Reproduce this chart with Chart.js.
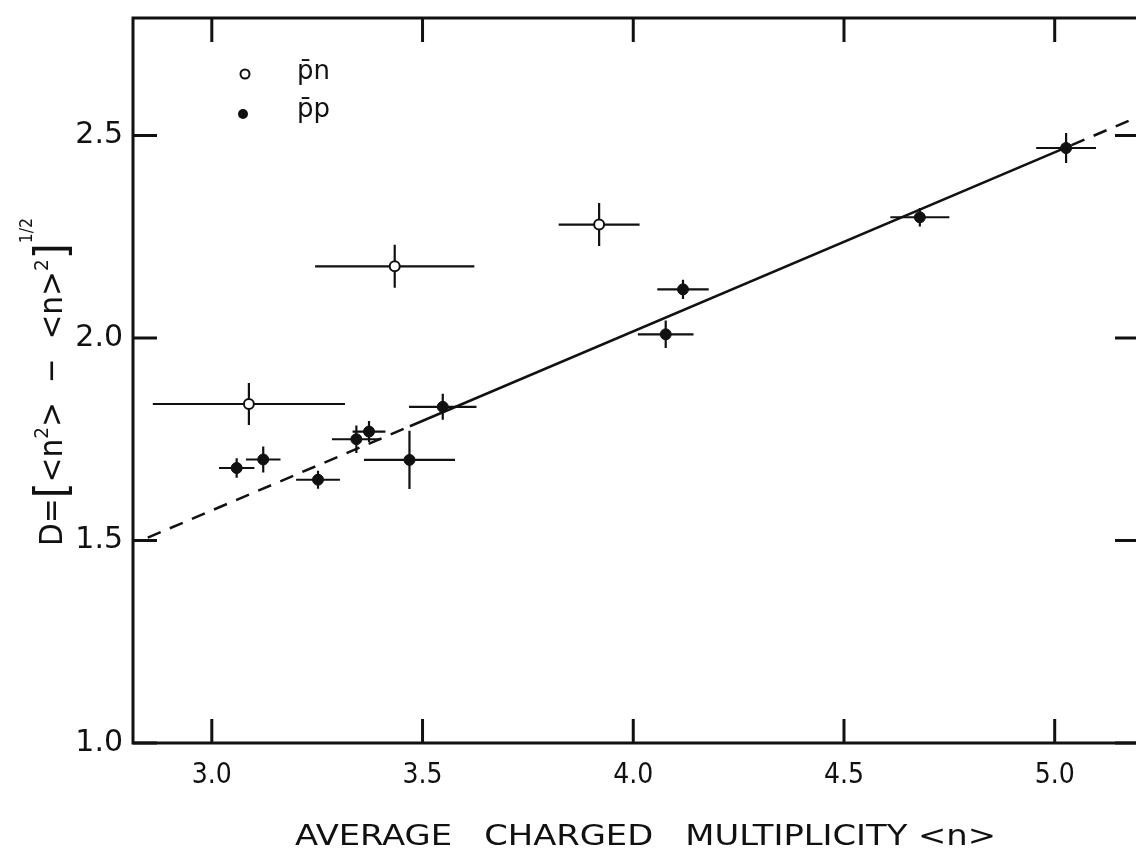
<!DOCTYPE html>
<html>
<head>
<meta charset="utf-8">
<script src="https://cdn.jsdelivr.net/npm/chart.js@4.4.1/dist/chart.umd.min.js"></script>
<style>
  html, body { margin: 0; padding: 0; background: #fff; overflow: hidden; }
  #wrap { width: 1146px; height: 848px; }
</style>
</head>
<body>
<div id="wrap"><canvas id="chart" width="1146" height="848"></canvas></div>
<script>
// pbar-n points (open circles)
const pnX    = [3.088, 3.434, 3.919];
const pnY    = [1.837, 2.177, 2.280];
const pnXErr = [0.228, 0.189, 0.096];
const pnYErr = [0.052, 0.053, 0.053];

// pbar-p points (filled)
const ppX    = [3.059, 3.122, 3.252, 3.343, 3.373, 3.469, 3.548, 4.077, 4.118, 4.680, 5.027];
const ppY    = [1.679, 1.700, 1.650, 1.750, 1.769, 1.699, 1.830, 2.009, 2.120, 2.298, 2.469];
const ppXErr = [0.042, 0.041, 0.052, 0.058, 0.039, 0.108, 0.080, 0.066, 0.061, 0.070, 0.071];
const ppYErr = [0.024, 0.032, 0.022, 0.034, 0.026, 0.072, 0.032, 0.034, 0.024, 0.023, 0.037];

// straight line: dashed, solid, dashed
const lineX = [2.848, 3.470, 5.040, 5.200];
const lineY = [1.507, 1.782, 2.476, 2.547];

const xTicks = [3.0, 3.5, 4.0, 4.5, 5.0];
const yTicks = [1.0, 1.5, 2.0, 2.5];

const xTitle = "AVERAGE   CHARGED   MULTIPLICITY <n>";

const INK = "#111";
const COND = "'DejaVu Sans Condensed', 'DejaVu Sans'";

function toPts(xs, ys) {
  return xs.map((x, i) => ({ x: x, y: ys[i] }));
}

function drawErrBars(ctx, xs, ys, xe, ye, sx, sy) {
  ctx.beginPath();
  for (let i = 0; i < xs.length; i++) {
    const px = sx.getPixelForValue(xs[i]);
    const py = sy.getPixelForValue(ys[i]);
    ctx.moveTo(sx.getPixelForValue(xs[i] - xe[i]), py);
    ctx.lineTo(sx.getPixelForValue(xs[i] + xe[i]), py);
    ctx.moveTo(px, sy.getPixelForValue(ys[i] - ye[i]));
    ctx.lineTo(px, sy.getPixelForValue(ys[i] + ye[i]));
  }
  ctx.stroke();
}

const decorations = {
  id: "decorations",
  beforeDatasetsDraw(chart) {
    const ctx = chart.ctx;
    const sx = chart.scales.x, sy = chart.scales.y;
    ctx.save();
    ctx.strokeStyle = INK;
    ctx.lineWidth = 2.2;
    drawErrBars(ctx, pnX, pnY, pnXErr, pnYErr, sx, sy);
    drawErrBars(ctx, ppX, ppY, ppXErr, ppYErr, sx, sy);
    ctx.restore();
  },
  afterDraw(chart) {
    const ctx = chart.ctx;
    const a = chart.chartArea;
    const sx = chart.scales.x, sy = chart.scales.y;
    const tl = 24;
    ctx.save();
    ctx.strokeStyle = INK;
    ctx.fillStyle = INK;

    // frame
    ctx.lineWidth = 3;
    ctx.strokeRect(a.left, a.top, a.right - a.left, a.bottom - a.top);

    // inward ticks on all sides
    ctx.beginPath();
    xTicks.forEach(v => {
      const p = sx.getPixelForValue(v);
      ctx.moveTo(p, a.bottom); ctx.lineTo(p, a.bottom - tl);
      ctx.moveTo(p, a.top); ctx.lineTo(p, a.top + tl);
    });
    yTicks.forEach(v => {
      const p = sy.getPixelForValue(v);
      ctx.moveTo(a.left, p); ctx.lineTo(a.left + tl, p);
      ctx.moveTo(a.right, p); ctx.lineTo(a.right - tl, p);
    });
    ctx.stroke();

    // legend
    const lx = a.left + 112;
    ctx.lineWidth = 2;
    ctx.beginPath();
    ctx.arc(lx, 74, 4.5, 0, Math.PI * 2);
    ctx.fillStyle = "#fff";
    ctx.fill();
    ctx.stroke();
    ctx.fillStyle = INK;
    ctx.beginPath();
    ctx.arc(lx - 2, 114, 5, 0, Math.PI * 2);
    ctx.fill();
    ctx.font = "26px 'DejaVu Sans'";
    ctx.textBaseline = "middle";
    ctx.textAlign = "left";
    ctx.fillText("p\u0304n", a.left + 164, 72);
    ctx.fillText("p\u0304p", a.left + 164, 110);

    // x title, stretched to the span of the original
    ctx.font = "28px " + COND;
    ctx.textBaseline = "alphabetic";
    const tw = ctx.measureText(xTitle).width;
    ctx.save();
    ctx.translate(295, 845);
    ctx.scale(701 / tw, 1);
    ctx.fillText(xTitle, 0, 0);
    ctx.restore();

    // y title, rotated
    const parts = [
      { t: "D=", size: 32, dy: 0 },
      { t: "[", size: 44, dy: 4 },
      { t: "<n", size: 32, dy: 0 },
      { t: "2", size: 20, dy: -14 },
      { t: ">  \u2212  <n>", size: 32, dy: 0 },
      { t: "2", size: 20, dy: -14 },
      { t: "]", size: 44, dy: 4 },
      { t: "1/2", size: 17, dy: -30 }
    ];
    let total = 0;
    parts.forEach(p => {
      ctx.font = p.size + "px " + COND;
      p.w = ctx.measureText(p.t).width;
      total += p.w;
    });
    const span = 328;
    ctx.translate(62, 546);
    ctx.rotate(-Math.PI / 2);
    ctx.scale(span / total, 1);
    let cx = 0;
    parts.forEach(p => {
      ctx.font = p.size + "px " + COND;
      ctx.fillText(p.t, cx, p.dy);
      cx += p.w;
    });
    ctx.restore();
  }
};

new Chart(document.getElementById("chart"), {
  type: "scatter",
  data: {
    datasets: [
      {
        type: "line",
        label: "fit",
        data: toPts(lineX, lineY),
        borderColor: INK,
        borderWidth: 2.5,
        pointRadius: 0,
        fill: false,
        tension: 0,
        segment: {
          borderDash: ctx => (ctx.p0DataIndex === 1 ? [] : [14, 10])
        },
        order: 3
      },
      {
        label: "p\u0304n",
        data: toPts(pnX, pnY),
        pointStyle: "circle",
        pointRadius: 5,
        backgroundColor: "#fff",
        borderColor: INK,
        borderWidth: 2,
        order: 1
      },
      {
        label: "p\u0304p",
        data: toPts(ppX, ppY),
        pointStyle: "circle",
        pointRadius: 5.5,
        backgroundColor: INK,
        borderColor: INK,
        borderWidth: 1,
        order: 2
      }
    ]
  },
  options: {
    responsive: false,
    animation: false,
    layout: { padding: { top: 18, left: 0, right: 6, bottom: 0 } },
    plugins: {
      legend: { display: false },
      tooltip: { enabled: false }
    },
    scales: {
      x: {
        type: "linear",
        min: 2.813,
        max: 5.2,
        afterFit(s) { s.height = 105; s.paddingLeft = 0; s.paddingRight = 0; },
        afterBuildTicks(s) { s.ticks = xTicks.map(v => ({ value: v })); },
        grid: { display: false, drawTicks: false },
        border: { display: false },
        ticks: {
          padding: 16,
          color: INK,
          font: { family: COND, size: 28 },
          callback: v => Number(v).toFixed(1)
        }
      },
      y: {
        type: "linear",
        min: 1.0,
        max: 2.79,
        afterFit(s) { s.width = 133; s.paddingTop = 0; s.paddingBottom = 0; },
        afterBuildTicks(s) { s.ticks = yTicks.map(v => ({ value: v })); },
        grid: { display: false, drawTicks: false },
        border: { display: false },
        ticks: {
          padding: 10,
          color: INK,
          font: { family: "'DejaVu Sans'", size: 30 },
          callback: v => Number(v).toFixed(1)
        }
      }
    }
  },
  plugins: [decorations]
});
</script>
</body>
</html>
